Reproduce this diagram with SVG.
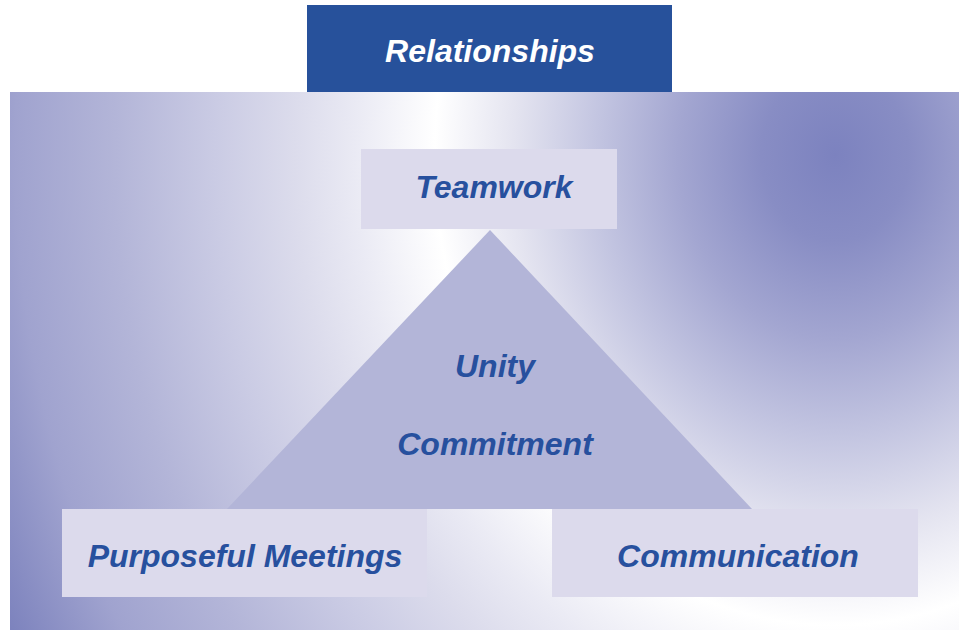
<svg xmlns="http://www.w3.org/2000/svg" width="959" height="630" viewBox="0 0 959 630">
<defs>
<radialGradient id="gBg" gradientUnits="userSpaceOnUse" cx="0" cy="0" r="1" gradientTransform="translate(835,155) scale(920,1081)">
<stop offset="0" stop-color="#7c82bf"/>
<stop offset="0.08" stop-color="#888dc4"/>
<stop offset="0.17" stop-color="#a3a6d1"/>
<stop offset="0.26" stop-color="#c3c5e1"/>
<stop offset="0.35" stop-color="#e4e4f0"/>
<stop offset="0.435" stop-color="#ffffff"/>
<stop offset="0.522" stop-color="#eaeaf4"/>
<stop offset="0.587" stop-color="#dcdcec"/>
<stop offset="0.674" stop-color="#cacbe4"/>
<stop offset="0.783" stop-color="#b3b5d8"/>
<stop offset="0.891" stop-color="#a0a3cf"/>
<stop offset="1" stop-color="#7c82bd"/>
</radialGradient>
</defs>
<style>
.lbl{font-family:"Liberation Sans",Arial,sans-serif;font-weight:bold;font-style:italic;font-size:32px;fill:#27509e;text-anchor:middle}
.box{fill:#dcdaec}
</style>
<rect x="0" y="0" width="959" height="630" fill="#ffffff"/>
<g id="background">
<rect x="10" y="92" width="949" height="538" fill="url(#gBg)"/>
</g>
<g id="title">
<rect x="307" y="5" width="365" height="87" fill="#27519b"/>
<text x="490" y="62" class="lbl" style="fill:#ffffff">Relationships</text>
</g>
<g id="triangle">
<polygon points="490,230 227,509 752,509" fill="#b3b5d8"/>
<text x="495" y="377" class="lbl">Unity</text>
<text x="495" y="455" class="lbl">Commitment</text>
</g>
<g id="teamwork">
<rect x="361" y="149" width="256" height="80" class="box"/>
<text x="494" y="198" class="lbl">Teamwork</text>
</g>
<g id="meetings">
<rect x="62" y="509" width="365" height="88" class="box"/>
<text x="245" y="567" class="lbl">Purposeful Meetings</text>
</g>
<g id="communication">
<rect x="552" y="509" width="366" height="88" class="box"/>
<text x="738" y="567" class="lbl">Communication</text>
</g>
<g id="connectors"></g>
</svg>
